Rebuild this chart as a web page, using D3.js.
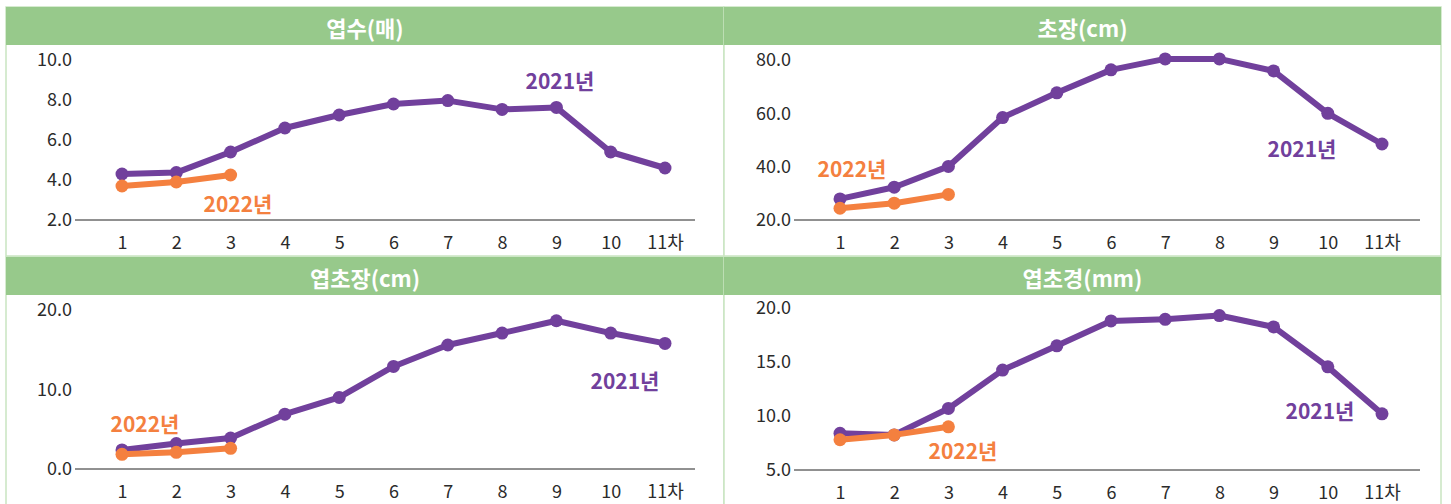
<!DOCTYPE html>
<html>
<head>
<meta charset="utf-8">
<script src="https://cdn.jsdelivr.net/npm/d3@7"></script>
<style>
  html, body { margin: 0; padding: 0; background: #ffffff; }
  svg { display: block; font-family: "Noto Sans CJK KR", "Noto Sans", sans-serif; }
</style>
</head>
<body>
<svg id="chart" width="1451" height="504"></svg>
<script>
// 조사 차수
const categories = [1, 2, 3, 4, 5, 6, 7, 8, 9, 10, 11];

// 엽수(매)
const leafCount2021 = [4.3, 4.37, 5.4, 6.6, 7.25, 7.8, 7.97, 7.53, 7.63, 5.4, 4.6];
const leafCount2022 = [3.7, 3.9, 4.25];
const leafCountTicks = [2, 4, 6, 8, 10];

// 초장(cm)
const height2021 = [27.9, 32.3, 40.1, 58.4, 67.7, 76.3, 80.4, 80.4, 75.9, 60.0, 48.5];
const height2022 = [24.4, 26.3, 29.6];
const heightTicks = [20, 40, 60, 80];

// 엽초장(cm)
const sheathLen2021 = [2.4, 3.2, 3.9, 6.9, 9.0, 12.9, 15.6, 17.1, 18.65, 17.1, 15.8];
const sheathLen2022 = [1.85, 2.1, 2.6];
const sheathLenTicks = [0, 10, 20];

// 엽초경(mm)
const sheathDia2021 = [8.4, 8.25, 10.7, 14.25, 16.5, 18.8, 18.95, 19.3, 18.25, 14.55, 10.2];
const sheathDia2022 = [7.8, 8.25, 9.0];
const sheathDiaTicks = [5, 10, 15, 20];

const color_header = "#97c98b";
const color_border = "#c9e5c1";
const color_2021 = "#71409c";
const color_2022 = "#f4803f";
const color_text = "#2b2b2b";

const svg = d3.select("#chart");

// 패널 설정
const panels = [
    { title: "엽수(매)", left: 6, top: 7, right: 724, bottom: 256, headerH: 38,
      axisX0: 75, axisX1: 695, xr: [122, 665], yr: [220, 60], ticks: leafCountTicks,
      s2021: leafCount2021, s2022: leafCount2022,
      lab2021: [560, 80], lab2022: [238, 203] },
    { title: "초장(cm)", left: 724, top: 7, right: 1441, bottom: 256, headerH: 38,
      axisX0: 794, axisX1: 1420, xr: [840, 1382], yr: [220, 60], ticks: heightTicks,
      s2021: height2021, s2022: height2022,
      lab2021: [1302, 148], lab2022: [852, 168] },
    { title: "엽초장(cm)", left: 6, top: 257, right: 724, bottom: 510, headerH: 38,
      axisX0: 75, axisX1: 695, xr: [122, 665], yr: [469, 310], ticks: sheathLenTicks,
      s2021: sheathLen2021, s2022: sheathLen2022,
      lab2021: [625, 380], lab2022: [145, 423] },
    { title: "엽초경(mm)", left: 724, top: 257, right: 1441, bottom: 510, headerH: 38,
      axisX0: 794, axisX1: 1420, xr: [840, 1382], yr: [470, 308], ticks: sheathDiaTicks,
      s2021: sheathDia2021, s2022: sheathDia2022,
      lab2021: [1320, 410], lab2022: [963, 450] }
];

function fn_draw_panel(p) {
    let g = svg.append("g").classed("g_panel", true);

    g.append("rect")
        .attr("x", p.left)
        .attr("y", p.top)
        .attr("width", p.right - p.left)
        .attr("height", p.bottom - p.top)
        .attr("fill", "#ffffff")
        .attr("stroke", color_border)
        .attr("stroke-width", 1.5);

    g.append("rect")
        .attr("x", p.left)
        .attr("y", p.top)
        .attr("width", p.right - p.left)
        .attr("height", p.headerH)
        .attr("fill", color_header);

    g.append("text")
        .text(p.title)
        .attr("x", (p.left + p.right) / 2)
        .attr("y", p.top + p.headerH / 2 + 1)
        .attr("text-anchor", "middle")
        .attr("dominant-baseline", "central")
        .attr("fill", "#ffffff")
        .style("font-size", "22px")
        .style("font-weight", "bold");

    let x = d3.scalePoint().domain(categories).range(p.xr);
    let domain = d3.extent(p.ticks);
    let y = d3.scaleLinear().domain(domain).range(p.yr);

    // y축
    let gy = g.append("g")
        .attr("transform", "translate(" + (p.axisX0 + 1) + ",0)")
        .call(d3.axisLeft(y).tickValues(p.ticks).tickSize(0).tickPadding(4).tickFormat(d3.format(".1f")));
    gy.select(".domain").remove();
    gy.selectAll("text")
        .attr("fill", color_text)
        .style("font-size", "18px")
        .style("font-family", "'Noto Sans CJK KR', sans-serif");

    // x축
    let baseY = y(domain[0]);
    let gx = g.append("g")
        .attr("transform", "translate(0," + baseY + ")")
        .call(d3.axisBottom(x).tickSize(0).tickPadding(16)
            .tickFormat(d => d === categories[categories.length - 1] ? d + "차" : d));
    gx.select(".domain").remove();
    gx.selectAll("text")
        .attr("fill", color_text)
        .style("font-size", "18px")
        .style("font-family", "'Noto Sans CJK KR', sans-serif");

    g.append("line")
        .attr("x1", p.axisX0)
        .attr("x2", p.axisX1)
        .attr("y1", baseY)
        .attr("y2", baseY)
        .attr("stroke", "#222222")
        .attr("stroke-width", 1);

    let line = d3.line().x((d, i) => x(categories[i])).y(d => y(d));

    [[p.s2021, color_2021], [p.s2022, color_2022]].forEach(([series, color]) => {
        g.append("path")
            .datum(series)
            .attr("d", line)
            .attr("fill", "none")
            .attr("stroke", color)
            .attr("stroke-width", 6)
            .attr("stroke-linejoin", "round");
        g.selectAll(null)
            .data(series)
            .enter()
            .append("circle")
            .attr("cx", (d, i) => x(categories[i]))
            .attr("cy", d => y(d))
            .attr("r", 6.5)
            .attr("fill", color);
    });

    [["2021년", p.lab2021, color_2021], ["2022년", p.lab2022, color_2022]].forEach(([txt, pos, color]) => {
        g.append("text")
            .text(txt)
            .attr("x", pos[0])
            .attr("y", pos[1])
            .attr("text-anchor", "middle")
            .attr("dominant-baseline", "central")
            .attr("fill", color)
            .style("font-size", "21px")
            .style("font-weight", "bold");
    });
}

panels.forEach(fn_draw_panel);
</script>
</body>
</html>
